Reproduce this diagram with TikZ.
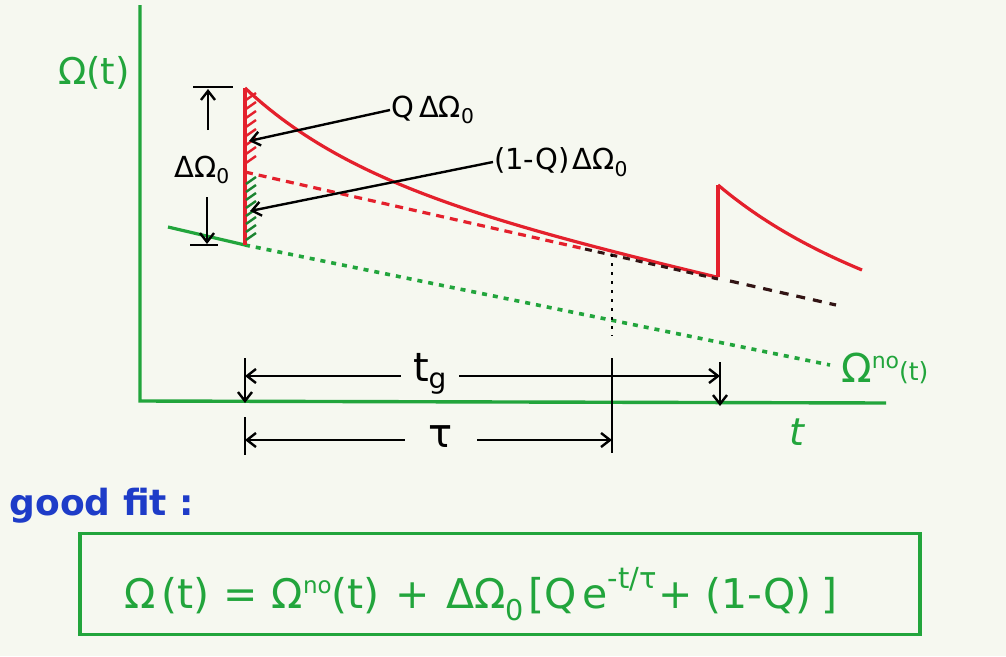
\documentclass[tikz,border=0pt]{standalone}
\usepackage{fontspec}
\setmainfont{DejaVu Sans}
\usetikzlibrary{arrows.meta}
\definecolor{bg}{RGB}{246,248,240}
\definecolor{gr}{RGB}{34,165,60}
\definecolor{rd}{RGB}{228,32,44}
\definecolor{bl}{RGB}{30,60,200}
\definecolor{dk}{RGB}{50,20,20}
\tikzset{
 axisline/.style={gr,line width=3.4pt},
 curve/.style={rd,line width=3.2pt},
 dimline/.style={black,line width=2.4pt},
 arr/.style={-{Straight Barb[length=9pt,width=14pt,line width=2.4pt]}},
 blk/.style={black,inner sep=1pt,font=\fontsize{29}{32}\selectfont},
 grn/.style={gr,inner sep=1pt},
}
\begin{document}
\begin{tikzpicture}[x=1pt,y=-1pt]
\fill[bg] (0,0) rectangle (1006,656);
\useasboundingbox (0,0) rectangle (1006,656);
% axes
\coordinate (ytop) at (140,5);
\coordinate (orig) at (140,401);
\coordinate (xend) at (886,403);
\draw[axisline] (ytop) -- (orig) -- (xend);
\node[grn,font=\fontsize{37}{40}\selectfont] (ylab) at (94,73) {Ω(t)};
\node[grn,font=\itshape\fontsize{38}{40}\selectfont] (xlab) at (797,432) {t};
% no-curve
\coordinate (g0) at (168,227);
\coordinate (g1) at (245,245);
\coordinate (g2) at (830,365);
\draw[gr,line width=3.2pt] (g0) -- (g1);
\draw[gr,line width=3.6pt,dash pattern=on 5pt off 6pt] (g1) -- (g2);
\node[grn,anchor=west,font=\fontsize{40}{42}\selectfont] (nolab) at (840,368) {Ω\raisebox{14pt}{\fontsize{22}{24}\selectfont no}\fontsize{25}{28}\selectfont\raisebox{2pt}{(t)}};
% dashed pedestal line
\coordinate (p0) at (245,172);
\coordinate (p1) at (585,249);
\coordinate (p2) at (718,279);
\coordinate (p3) at (730,281);
\coordinate (p4) at (836,305);
\draw[rd,line width=3.2pt,dash pattern=on 8pt off 6pt] (p0) -- (p1);
% red curves
\coordinate (j0) at (245,245);
\coordinate (j1) at (245,88);
\draw[curve] (j0) -- (j1);
\draw[curve] plot[domain=245:718,samples=80] (\x,{172+0.226*(\x-245)-84*exp(-(\x-245)/118)});
\coordinate (k0) at (718,277);
\coordinate (k1) at (718,185);
\draw[curve] (k0) -- (k1);
\draw[curve] plot[domain=718:862,samples=40] (\x,{263.6+0.217*(\x-718)-78.6*exp(-(\x-718)/125)});
\draw[dk,line width=3pt,dash pattern=on 7pt off 6pt] (p1) -- (p2);
\draw[dk,line width=3.2pt,dash pattern=on 9pt off 8pt] (p3) -- (p4);
% hatching
\foreach \yy in {100,109,...,168} \draw[rd,line width=2.4pt] (246,\yy) -- ++(10,-7);
\foreach \yy in {184,192,...,243} \draw[gr!80!black,line width=2.4pt] (246,\yy) -- ++(10,-7);
% dotted vertical at tau
\coordinate (d0) at (612,254);
\coordinate (d1) at (612,336);
\draw[black,line width=2.6pt,dash pattern=on 3pt off 6pt] (d0) -- (d1);
% Delta Omega_0 dimension
\node[blk] (dO) at (202,170) {ΔΩ\textsubscript{0}};
\coordinate (dtop) at (208,89);
\coordinate (dbot) at (207,244);
\draw[dimline] (193,87) -- (233,87);
\draw[dimline] (190,245) -- (218,245);
\draw[dimline,arr] (208,130) -- (dtop);
\draw[dimline,arr] (207,197) -- (dbot);
% labels with arrows
\node[blk,anchor=west] (qlab) at (390,110) {Q\hspace{5pt}ΔΩ\textsubscript{0}};
\coordinate (qtip) at (249,141);
\draw[dimline,arr] (qlab.west) -- (qtip);
\node[blk,anchor=west] (q2lab) at (493,162) {(1-Q)\hspace{3pt}ΔΩ\textsubscript{0}};
\coordinate (q2tip) at (250,211);
\draw[dimline,arr] (q2lab.west) -- (q2tip);
% t_g dimension
\coordinate (tgl) at (245,376);
\coordinate (tgr) at (720,376);
\node[black,inner xsep=12pt,inner ysep=1pt,font=\fontsize{40}{42}\selectfont] (tg) at (430,374) {t\textsubscript{g}};
\draw[dimline,arr] (tg.west |- tgl) -- (tgl);
\draw[dimline,arr] (tg.east |- tgr) -- (tgr);
\draw[dimline,arr] (245,358) -- (245,403);
\draw[dimline,arr] (720,362) -- (720,406);
% tau dimension
\coordinate (taul) at (245,440);
\coordinate (taur) at (612,440);
\node[black,inner xsep=24pt,inner ysep=1pt,font=\fontsize{40}{42}\selectfont] (tau) at (441,437) {τ};
\draw[dimline,arr] (tau.west |- taul) -- (taul);
\draw[dimline,arr] (tau.east |- taur) -- (taur);
\draw[dimline] (245,417) -- (245,455);
\draw[dimline] (612,358) -- (612,453);
% good fit
\node[bl,font=\bfseries\fontsize{36}{38}\selectfont,anchor=west] (gf) at (6,506) {good fit :};
\node[draw=gr,line width=3.4pt,minimum width=840pt,minimum height=101pt,inner sep=0pt] (box) at (500,584) {};
\node[gr,font=\fontsize{41}{44}\selectfont] (formula) at (481,594) {Ω\hspace{6pt}(t)\hspace{14pt}=\hspace{14pt}Ω\raisebox{15pt}{\fontsize{23}{24}\selectfont no}(t)\hspace{16pt}+\hspace{16pt}ΔΩ\textsubscript{0}\hspace{4pt}[Q\hspace{6pt}e\raisebox{20pt}{\fontsize{29}{30}\selectfont -t/τ}\hspace{2pt}+\hspace{12pt}(1-Q)\hspace{10pt}]};
\end{tikzpicture}
\end{document}
